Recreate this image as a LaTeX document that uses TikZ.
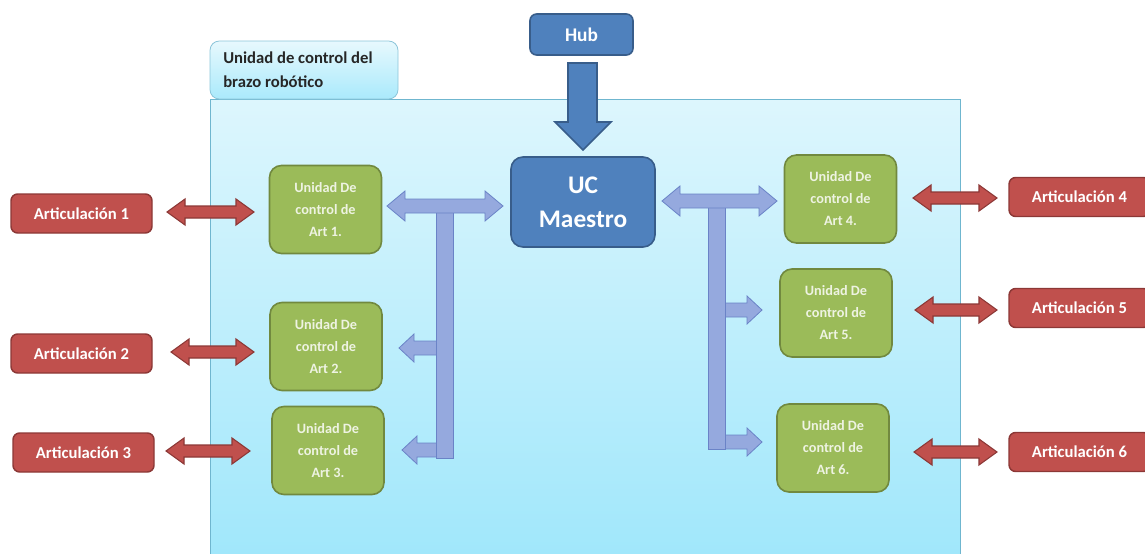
\documentclass[tikz,border=0pt]{standalone}
\usepackage{fontspec}
\setmainfont{Carlito}
\definecolor{gfill}{HTML}{9BBB59}
\definecolor{gborder}{HTML}{71893F}
\definecolor{gtext}{HTML}{EEF3E2}
\definecolor{rfill}{HTML}{C0504D}
\definecolor{rborder}{HTML}{8C3836}
\definecolor{bfill}{HTML}{4F81BD}
\definecolor{bborder}{HTML}{385D8A}
\definecolor{busfill}{HTML}{95A9DE}
\definecolor{busborder}{HTML}{6A83C7}
\definecolor{paneltop}{HTML}{DDF6FD}
\definecolor{panelbot}{HTML}{A0E7FB}
\definecolor{panelborder}{HTML}{6FB6CF}
\newcommand\dblarrowh[7]{%
 \draw[#7] (#1,#3) -- ({#1+#6},{#3-#5}) -- ({#1+#6},{#3-#4}) -- ({#2-#6},{#3-#4}) -- ({#2-#6},{#3-#5}) -- (#2,#3) -- ({#2-#6},{#3+#5}) -- ({#2-#6},{#3+#4}) -- ({#1+#6},{#3+#4}) -- ({#1+#6},{#3+#5}) -- cycle;}
\newcommand\sglarrowh[7]{%
 \draw[#7] (#1,{#3-#4}) -- ({#2-(#6)},{#3-#4}) -- ({#2-(#6)},{#3-#5}) -- (#2,#3) -- ({#2-(#6)},{#3+#5}) -- ({#2-(#6)},{#3+#4}) -- (#1,{#3+#4}) -- cycle;}
\begin{document}
\begin{tikzpicture}[
 x=0.75pt, y=-0.75pt,
 greenbox/.style={draw=gborder, line width=1.2pt, fill=gfill, rounded corners=9pt, minimum width=84pt, minimum height=66pt, inner sep=0pt, text=gtext, font=\bfseries\fontsize{10.7}{16.5}\selectfont, align=center},
 redbox/.style={draw=rborder, line width=1.1pt, fill=rfill, rounded corners=5pt, minimum width=105.75pt, minimum height=29.25pt, inner sep=0pt, text=white, font=\bfseries\fontsize{12.5}{14}\selectfont},
 bluebox/.style={draw=bborder, line width=1.2pt, fill=bfill, text=white, inner sep=0pt, align=center},
 redarrow/.style={draw=rborder, line width=0.8pt, fill=rfill},
 busarrow/.style={draw=busborder, line width=0.6pt, fill=busfill},
]
\useasboundingbox (0,0) rectangle (1145,553);
\clip (0,0) rectangle (1145,553);
% panel
\shade[top color=paneltop, bottom color=panelbot, draw=panelborder, line width=0.6pt] (210,99) rectangle (960,560);
\node[draw=panelborder!80, line width=0.6pt, top color=paneltop!70, bottom color=panelbot!90, rounded corners=7pt, minimum width=141pt, minimum height=43.5pt, inner sep=0pt] (label) at (304,70) {};
\node[anchor=west, align=left, font=\bfseries\fontsize{12.5}{18}\selectfont, text=black!85, inner sep=0pt] (labeltext) at (223,70) {Unidad de control del\\brazo robótico};
% hub
\node[bluebox, rounded corners=5pt, minimum width=77.25pt, minimum height=30.75pt, font=\bfseries\fontsize{14.5}{16}\selectfont] (hub) at (581.5,34.5) {Hub};
\draw[bluebox] (568,63) -- (597,63) -- (597,122) -- (611,122) -- (583,150) -- (555,122) -- (568,122) -- cycle;
% master
\node[bluebox, rounded corners=9pt, minimum width=108pt, minimum height=67.5pt, font=\bfseries\fontsize{19}{25.5}\selectfont] (uc) at (583,202) {UC\\Maestro};
% green boxes
\node[greenbox] (g1) at (325.5,209.5) {Unidad De\\control de\\Art 1.};
\node[greenbox] (g2) at (326,346.5) {Unidad De\\control de\\Art 2.};
\node[greenbox] (g3) at (328,450.5) {Unidad De\\control de\\Art 3.};
\node[greenbox] (g4) at (840.5,199) {Unidad De\\control de\\Art 4.};
\node[greenbox] (g5) at (836,313) {Unidad De\\control de\\Art 5.};
\node[greenbox] (g6) at (833,448) {Unidad De\\control de\\Art 6.};
% red boxes
\node[redbox] (r1) at (81.5,213.5) {Articulación 1};
\node[redbox] (r2) at (81.5,353.5) {Articulación 2};
\node[redbox] (r3) at (83.5,452.5) {Articulación 3};
\node[redbox] (r4) at (1079.5,197) {Articulación 4};
\node[redbox] (r5) at (1079.5,308) {Articulación 5};
\node[redbox] (r6) at (1079.5,452) {Articulación 6};
% red arrows
\dblarrowh{167}{254}{212}{6}{13}{18}{redarrow}
\dblarrowh{171}{254}{352}{6}{13}{18}{redarrow}
\dblarrowh{166}{250}{451}{6}{13}{18}{redarrow}
\dblarrowh{913}{997}{198}{6}{13}{18}{redarrow}
\dblarrowh{915}{997}{310}{6}{13}{18}{redarrow}
\dblarrowh{914}{997}{452}{6}{13}{18}{redarrow}
% left bus
\sglarrowh{440}{399}{348}{7}{14}{-15}{busarrow}
\sglarrowh{440}{402}{450}{7}{14}{-15}{busarrow}
\draw[busarrow] (436,212) rectangle (453,458);
\dblarrowh{387}{503}{206}{7}{15}{18}{busarrow}
% right bus
\sglarrowh{721}{762}{310}{7}{14}{15}{busarrow}
\sglarrowh{721}{762}{442}{7}{14}{15}{busarrow}
\draw[busarrow] (708,207) rectangle (725,449);
\dblarrowh{662}{777}{201}{7}{15}{18}{busarrow}
\end{tikzpicture}
\end{document}
